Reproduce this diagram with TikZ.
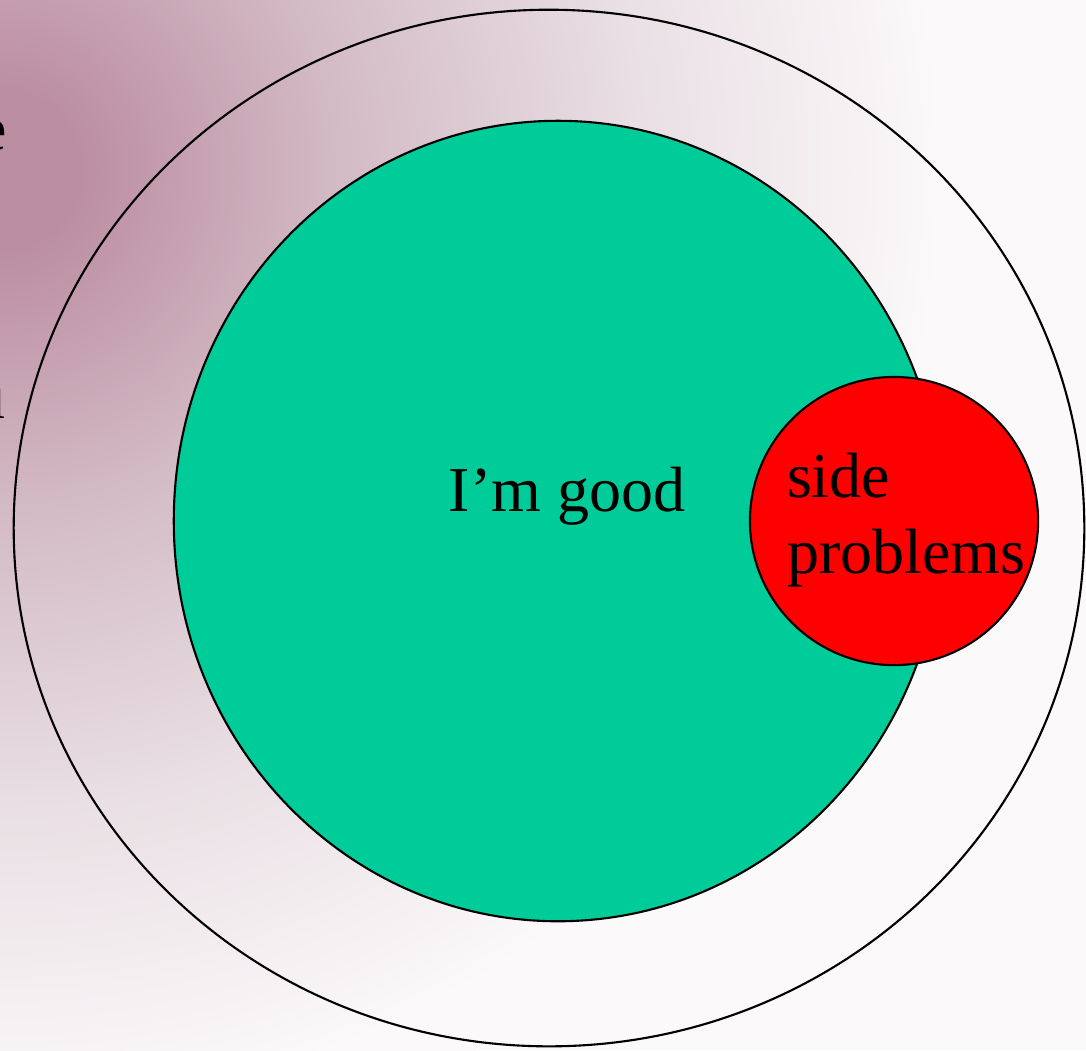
\documentclass[tikz,border=0pt]{standalone}
\usepackage{fontspec}
\setmainfont{Liberation Serif}
\usetikzlibrary{calc}

\definecolor{mauve}{RGB}{188,142,162}
\definecolor{mauvemid}{RGB}{211,187,197}
\definecolor{mauvelight}{RGB}{233,223,228}
\definecolor{slidewhite}{RGB}{251,249,250}
\definecolor{goodgreen}{RGB}{0,204,153}

% slide background, dark in the upper left
\pgfdeclareradialshading{slideglow}{\pgfpoint{0bp}{0bp}}{%
  color(0bp)=(mauve); color(2bp)=(mauve); color(8.5bp)=(mauvemid);
  color(16bp)=(mauvelight); color(23.5bp)=(slidewhite); color(50bp)=(slidewhite)}

\begin{document}
\begin{tikzpicture}[x=0.01cm, y=-0.01cm, line width=0.6pt,
    every node/.style={font=\fontsize{18.2}{21.4}\selectfont, inner sep=0pt}]
    \useasboundingbox (0,0) rectangle (1086,1050);
    \clip (0,0) rectangle (1086,1050);

    \coordinate (glow) at (0, 170);
    \coordinate (O) at (549, 528);
    \coordinate (G) at (558, 521);
    \coordinate (R) at (894, 521);

    \fill[slidewhite] (0,0) rectangle (1086,1050);
    \shade[shading=slideglow] (glow) circle[radius=10cm];

    % bits of slide text cut off at the left edge
    \node[anchor=base east] (cutE) at (8, 150) {e};
    \node[anchor=base east] (cutU) at (7, 418) {u};

    \draw (O) ellipse[x radius=5.35cm, y radius=5.18cm];
    \draw[fill=goodgreen] (G) ellipse[x radius=3.84cm, y radius=4cm];
    \draw[fill=red] (R) circle[radius=1.44cm];

    \node (good) at (567, 496) {I’m good};
    \node[anchor=west, align=left] (side) at (786, 520) {side\\problems};
\end{tikzpicture}
\end{document}
